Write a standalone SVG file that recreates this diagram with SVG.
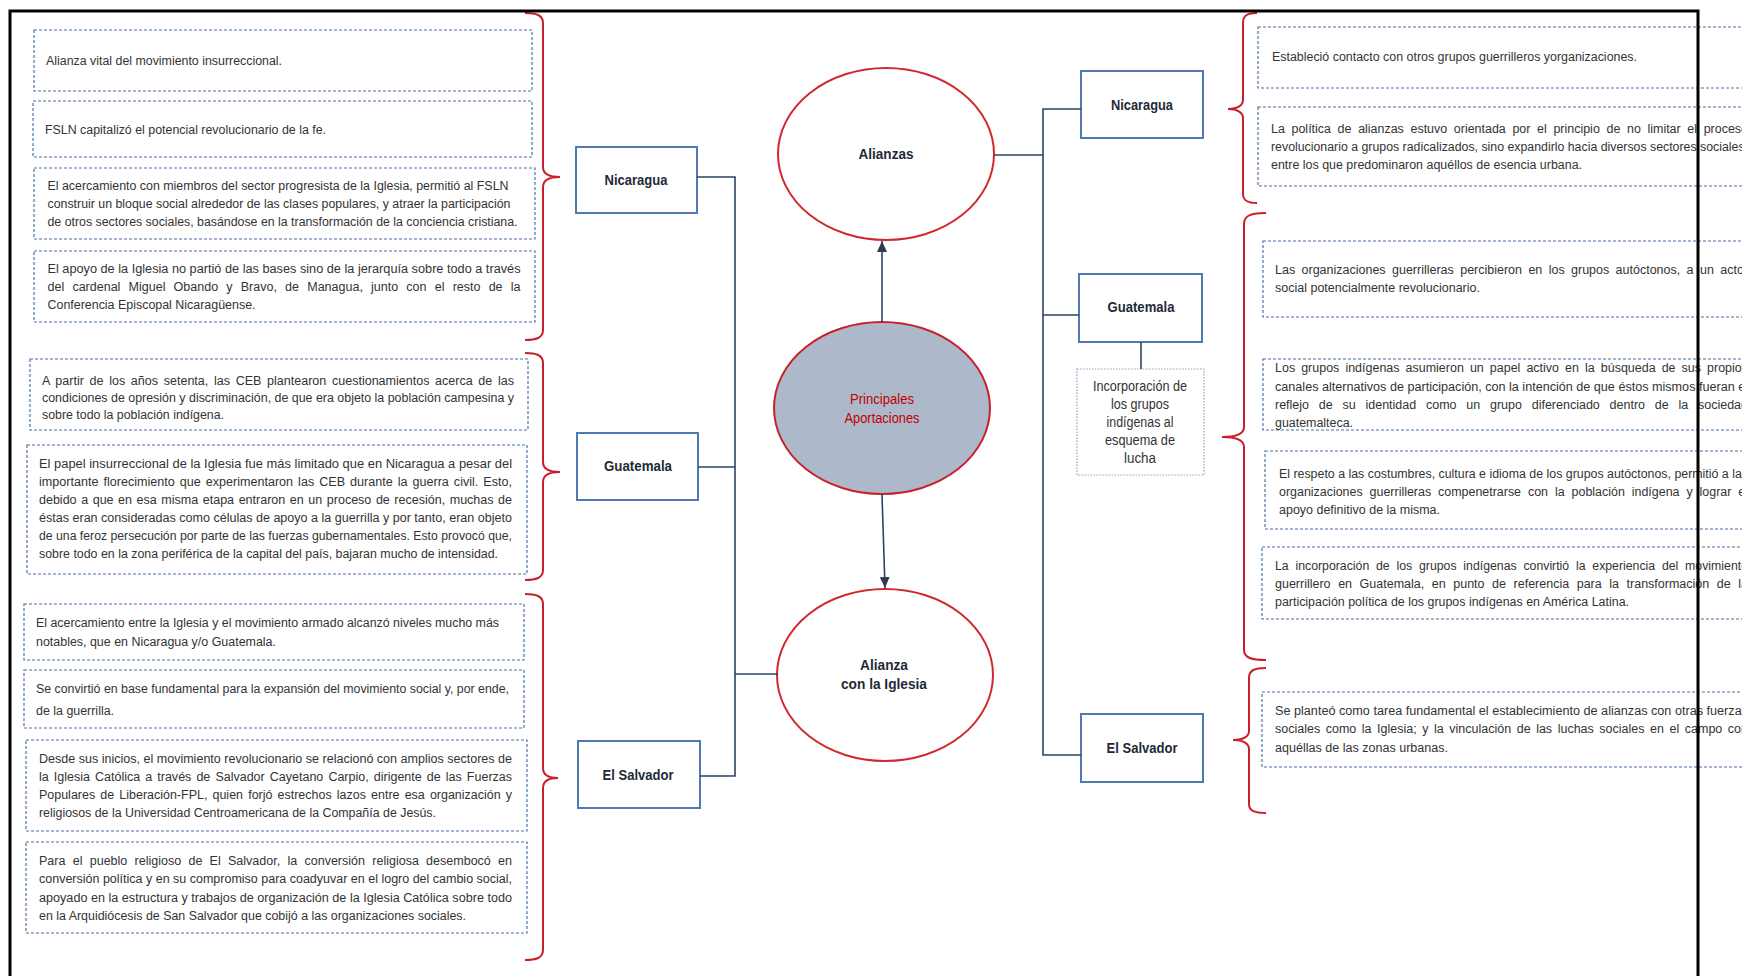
<svg xmlns="http://www.w3.org/2000/svg" width="1742" height="976" viewBox="0 0 1742 976">
  <style>
    .tb { fill: #ffffff; stroke: #4a72a6; stroke-width: 1.2; stroke-dasharray: 3 2; }
    .sub { fill: #ffffff; stroke: #8fa3c2; stroke-width: 1.2; stroke-dasharray: 1.5 1.5; }
    .txt { font-family: "Liberation Sans", Arial, sans-serif; font-size: 12.5px; fill: #333333; }
    .subtxt { font-family: "Liberation Sans", Arial, sans-serif; font-size: 14px; fill: #333333; text-anchor: middle; }
    .cb { fill: #ffffff; stroke: #4f7ab3; stroke-width: 2; }
    .cl { font-family: "Liberation Sans", Arial, sans-serif; font-size: 15px; font-weight: bold; fill: #1f2a38; text-anchor: middle; }
    .circ { fill: #ffffff; stroke: #d0282e; stroke-width: 2; }
    .core { fill: #adb9ca; stroke: #c8202a; stroke-width: 2; }
    .coretxt { font-family: "Liberation Sans", Arial, sans-serif; font-size: 14px; fill: #c00000; text-anchor: middle; }
    .conn { fill: none; stroke: #2e4266; stroke-width: 1.6; }
    .brace { fill: none; stroke: #c8202a; stroke-width: 2; }
    .frame { fill: none; stroke: #000000; stroke-width: 3; }
  </style>
  <defs>
    <marker id="arrow" viewBox="0 0 11 10" refX="11" refY="5" markerWidth="11" markerHeight="10" markerUnits="userSpaceOnUse" orient="auto">
      <path d="M0,0 L11,5 L0,10 z" fill="#2e3b4e"/>
    </marker>
  </defs>

  <rect x="0" y="0" width="1742" height="976" fill="#ffffff"/>

  <!-- Left column: Nicaragua notes -->
  <g id="n-nic-1">
    <rect class="tb" x="34" y="30" width="498" height="61"/>
    <text class="txt" x="46" y="65" textLength="236" lengthAdjust="spacingAndGlyphs">Alianza vital del movimiento insurreccional.</text>
  </g>
  <g id="n-nic-2">
    <rect class="tb" x="33" y="101" width="499" height="56"/>
    <text class="txt" x="45" y="134" textLength="281" lengthAdjust="spacingAndGlyphs">FSLN capitalizó el potencial revolucionario de la fe.</text>
  </g>
  <g id="n-nic-3">
    <rect class="tb" x="34" y="168" width="501" height="71"/>
    <text class="txt" x="47.5" y="190" textLength="461" lengthAdjust="spacingAndGlyphs">El acercamiento con miembros del sector progresista de la Iglesia, permitió al FSLN</text>
    <text class="txt" x="47.5" y="208" textLength="463" lengthAdjust="spacingAndGlyphs">construir un bloque social alrededor de las clases populares, y atraer la participación</text>
    <text class="txt" x="47.5" y="226" textLength="470" lengthAdjust="spacingAndGlyphs">de otros sectores sociales, basándose en la transformación de la conciencia cristiana.</text>
  </g>
  <g id="n-nic-4">
    <rect class="tb" x="34" y="251" width="501" height="71"/>
    <text class="txt" x="47.5" y="273" textLength="473" lengthAdjust="spacingAndGlyphs">El apoyo de la Iglesia no partió de las bases sino de la jerarquía sobre todo a través</text>
    <text class="txt" x="47.5" y="291" textLength="473" lengthAdjust="spacingAndGlyphs" word-spacing="4.7">del cardenal Miguel Obando y Bravo, de Managua, junto con el resto de la</text>
    <text class="txt" x="47.5" y="309" textLength="208" lengthAdjust="spacingAndGlyphs">Conferencia Episcopal Nicaragüense.</text>
  </g>

  <!-- Left column: Guatemala notes -->
  <g id="n-gua-1">
    <rect class="tb" x="30" y="359" width="498" height="71"/>
    <text class="txt" x="42" y="385" textLength="472" lengthAdjust="spacingAndGlyphs" word-spacing="2.2">A partir de los años setenta, las CEB plantearon cuestionamientos acerca de las</text>
    <text class="txt" x="42" y="402" textLength="472" lengthAdjust="spacingAndGlyphs">condiciones de opresión y discriminación, de que era objeto la población campesina y</text>
    <text class="txt" x="42" y="419" textLength="182" lengthAdjust="spacingAndGlyphs">sobre todo la población indígena.</text>
  </g>
  <g id="n-gua-2">
    <rect class="tb" x="27" y="445" width="500" height="129"/>
    <text class="txt" x="39" y="468" textLength="473" lengthAdjust="spacingAndGlyphs">El papel insurreccional de la Iglesia fue más limitado que en Nicaragua a pesar del</text>
    <text class="txt" x="39" y="486" textLength="473" lengthAdjust="spacingAndGlyphs" word-spacing="1.5">importante florecimiento que experimentaron las CEB durante la guerra civil. Esto,</text>
    <text class="txt" x="39" y="504" textLength="473" lengthAdjust="spacingAndGlyphs" word-spacing="1.1">debido a que en esa misma etapa entraron en un proceso de recesión, muchas de</text>
    <text class="txt" x="39" y="522" textLength="473" lengthAdjust="spacingAndGlyphs">éstas eran consideradas como células de apoyo a la guerrilla y por tanto, eran objeto</text>
    <text class="txt" x="39" y="540" textLength="473" lengthAdjust="spacingAndGlyphs">de una feroz persecución por parte de las fuerzas gubernamentales. Esto provocó que,</text>
    <text class="txt" x="39" y="558" textLength="459" lengthAdjust="spacingAndGlyphs">sobre todo en la zona periférica de la capital del país, bajaran mucho de intensidad.</text>
  </g>

  <!-- Left column: El Salvador notes -->
  <g id="n-sal-1">
    <rect class="tb" x="24" y="604" width="500" height="56"/>
    <text class="txt" x="36" y="627" textLength="463" lengthAdjust="spacingAndGlyphs">El acercamiento entre la Iglesia y el movimiento armado alcanzó niveles mucho más</text>
    <text class="txt" x="36" y="646" textLength="240" lengthAdjust="spacingAndGlyphs">notables, que en Nicaragua y/o Guatemala.</text>
  </g>
  <g id="n-sal-2">
    <rect class="tb" x="24" y="670" width="500" height="58"/>
    <text class="txt" x="36" y="693" textLength="473" lengthAdjust="spacingAndGlyphs">Se convirtió en base fundamental para la expansión del movimiento social y, por ende,</text>
    <text class="txt" x="36" y="715" textLength="78" lengthAdjust="spacingAndGlyphs">de la guerrilla.</text>
  </g>
  <g id="n-sal-3">
    <rect class="tb" x="26" y="740" width="501" height="91"/>
    <text class="txt" x="39" y="763" textLength="473" lengthAdjust="spacingAndGlyphs">Desde sus inicios, el movimiento revolucionario se relacionó con amplios sectores de</text>
    <text class="txt" x="39" y="781" textLength="473" lengthAdjust="spacingAndGlyphs" word-spacing="1.6">la Iglesia Católica a través de Salvador Cayetano Carpio, dirigente de las Fuerzas</text>
    <text class="txt" x="39" y="799" textLength="473" lengthAdjust="spacingAndGlyphs" word-spacing="1.7">Populares de Liberación-FPL, quien forjó estrechos lazos entre esa organización y</text>
    <text class="txt" x="39" y="817" textLength="397" lengthAdjust="spacingAndGlyphs">religiosos de la Universidad Centroamericana de la Compañía de Jesús.</text>
  </g>
  <g id="n-sal-4">
    <rect class="tb" x="26" y="842" width="501" height="91"/>
    <text class="txt" x="39" y="865" textLength="473" lengthAdjust="spacingAndGlyphs" word-spacing="3.8">Para el pueblo religioso de El Salvador, la conversión religiosa desembocó en</text>
    <text class="txt" x="39" y="883" textLength="473" lengthAdjust="spacingAndGlyphs">conversión política y en su compromiso para coadyuvar en el logro del cambio social,</text>
    <text class="txt" x="39" y="902" textLength="473" lengthAdjust="spacingAndGlyphs">apoyado en la estructura y trabajos de organización de la Iglesia Católica sobre todo</text>
    <text class="txt" x="39" y="920" textLength="427" lengthAdjust="spacingAndGlyphs">en la Arquidiócesis de San Salvador que cobijó a las organizaciones sociales.</text>
  </g>

  <!-- Braces grouping the left notes -->
  <g id="braces-left">
    <path class="brace" d="M525,13 C536,13 543,15 543,23 L543,167 C543,173 548,177 560,177 C548,177 543,181 543,187 L543,330 C543,338 536,340 525,340"/>
    <path class="brace" d="M525,353 C536,353 543,355 543,363 L543,462 C543,468 548,472 560,472 C548,472 543,476 543,482 L543,570 C543,578 536,580 525,580"/>
    <path class="brace" d="M525,594 C536,594 543,596 543,604 L543,768 C543,774 548,778 558,778 C548,778 543,782 543,788 L543,950 C543,958 536,960 525,960"/>
  </g>

  <!-- Country boxes, left -->
  <g id="c-nic-left">
    <rect class="cb" x="576" y="147" width="121" height="66"/>
    <text class="cl" x="636" y="185" textLength="63" lengthAdjust="spacingAndGlyphs">Nicaragua</text>
  </g>
  <g id="c-gua-left">
    <rect class="cb" x="577" y="433" width="121" height="67"/>
    <text class="cl" x="638" y="471" textLength="68" lengthAdjust="spacingAndGlyphs">Guatemala</text>
  </g>
  <g id="c-sal-left">
    <rect class="cb" x="578" y="741" width="122" height="67"/>
    <text class="cl" x="638" y="780" textLength="71" lengthAdjust="spacingAndGlyphs">El Salvador</text>
  </g>

  <!-- Central nodes -->
  <g id="alianzas">
    <ellipse class="circ" cx="886" cy="154" rx="108" ry="86"/>
    <text class="cl" x="886" y="159" textLength="55" lengthAdjust="spacingAndGlyphs">Alianzas</text>
  </g>
  <g id="aportaciones">
    <ellipse class="core" cx="882" cy="408" rx="108" ry="86"/>
    <text class="coretxt" x="882" y="404" textLength="64" lengthAdjust="spacingAndGlyphs">Principales</text>
    <text class="coretxt" x="882" y="423" textLength="75" lengthAdjust="spacingAndGlyphs">Aportaciones</text>
  </g>
  <g id="alianza-iglesia">
    <ellipse class="circ" cx="885" cy="675" rx="108" ry="86"/>
    <text class="cl" x="884" y="670" textLength="48" lengthAdjust="spacingAndGlyphs">Alianza</text>
    <text class="cl" x="884" y="689" textLength="86" lengthAdjust="spacingAndGlyphs">con la Iglesia</text>
  </g>

  <!-- Country boxes, right -->
  <g id="c-nic-right">
    <rect class="cb" x="1081" y="71" width="122" height="67"/>
    <text class="cl" x="1142" y="110" textLength="62" lengthAdjust="spacingAndGlyphs">Nicaragua</text>
  </g>
  <g id="c-gua-right">
    <rect class="cb" x="1079" y="274" width="123" height="68"/>
    <text class="cl" x="1141" y="312" textLength="67" lengthAdjust="spacingAndGlyphs">Guatemala</text>
  </g>
  <g id="c-gua-sub">
    <rect class="sub" x="1077" y="369" width="127" height="106"/>
    <text class="subtxt" x="1140" y="391" textLength="94" lengthAdjust="spacingAndGlyphs">Incorporación de</text>
    <text class="subtxt" x="1140" y="409" textLength="58" lengthAdjust="spacingAndGlyphs">los grupos</text>
    <text class="subtxt" x="1140" y="427" textLength="67" lengthAdjust="spacingAndGlyphs">indígenas al</text>
    <text class="subtxt" x="1140" y="445" textLength="70" lengthAdjust="spacingAndGlyphs">esquema de</text>
    <text class="subtxt" x="1140" y="463" textLength="32" lengthAdjust="spacingAndGlyphs">lucha</text>
  </g>
  <g id="c-sal-right">
    <rect class="cb" x="1081" y="714" width="122" height="68"/>
    <text class="cl" x="1142" y="753" textLength="71" lengthAdjust="spacingAndGlyphs">El Salvador</text>
  </g>

  <!-- Connectors -->
  <g id="connectors">
    <path class="conn" d="M697,177 H735 V776 H700"/>
    <path class="conn" d="M698,467 H735"/>
    <path class="conn" d="M735,674 H778"/>
    <path class="conn" d="M994,155 H1043"/>
    <path class="conn" d="M1081,109 H1043 V755 H1081"/>
    <path class="conn" d="M1043,315 H1079"/>
    <path class="conn" d="M1141,342 V369"/>
    <path class="conn" d="M882,322 L882,241" marker-end="url(#arrow)"/>
    <path class="conn" d="M882,494 L885,588" marker-end="url(#arrow)"/>
  </g>

  <!-- Braces grouping the right notes -->
  <g id="braces-right">
    <path class="brace" d="M1257,13 C1248,13 1243,15 1243,23 L1243,100 C1243,105 1238,109 1228,109 C1238,109 1243,113 1243,118 L1243,194 C1243,201 1248,203 1257,203"/>
    <path class="brace" d="M1266,213 C1252,213 1244,215 1244,224 L1244,427 C1244,433 1238,437 1222,437 C1238,437 1244,441 1244,447 L1244,650 C1244,658 1252,660 1266,660"/>
    <path class="brace" d="M1266,668 C1255,668 1249,670 1249,678 L1249,731 C1249,736 1244,740 1233,740 C1244,740 1249,744 1249,749 L1249,804 C1249,811 1255,813 1266,813"/>
  </g>

  <!-- Right column: Nicaragua notes -->
  <g id="r-nic-1">
    <rect class="tb" x="1258" y="27" width="500" height="61"/>
    <text class="txt" x="1272" y="61" textLength="365" lengthAdjust="spacingAndGlyphs">Estableció contacto con otros grupos guerrilleros yorganizaciones.</text>
  </g>
  <g id="r-nic-2">
    <rect class="tb" x="1258" y="107" width="500" height="79"/>
    <text class="txt" x="1271" y="133" textLength="477" lengthAdjust="spacingAndGlyphs" word-spacing="3.2">La política de alianzas estuvo orientada por el principio de no limitar el proceso</text>
    <text class="txt" x="1271" y="151" textLength="477" lengthAdjust="spacingAndGlyphs">revolucionario a grupos radicalizados, sino expandirlo hacia diversos sectores sociales,</text>
    <text class="txt" x="1271" y="169" textLength="311" lengthAdjust="spacingAndGlyphs">entre los que predominaron aquéllos de esencia urbana.</text>
  </g>

  <!-- Right column: Guatemala notes -->
  <g id="r-gua-1">
    <rect class="tb" x="1263" y="241" width="500" height="76"/>
    <text class="txt" x="1275" y="274" textLength="473" lengthAdjust="spacingAndGlyphs" word-spacing="2.9">Las organizaciones guerrilleras percibieron en los grupos autóctonos, a un actor</text>
    <text class="txt" x="1275" y="292" textLength="205" lengthAdjust="spacingAndGlyphs">social potencialmente revolucionario.</text>
  </g>
  <g id="r-gua-2">
    <rect class="tb" x="1263" y="359" width="500" height="71"/>
    <text class="txt" x="1275" y="372" textLength="473" lengthAdjust="spacingAndGlyphs" word-spacing="2.6">Los grupos indígenas asumieron un papel activo en la búsqueda de sus propios</text>
    <text class="txt" x="1275" y="391" textLength="473" lengthAdjust="spacingAndGlyphs">canales alternativos de participación, con la intención de que éstos mismos fueran el</text>
    <text class="txt" x="1275" y="409" textLength="473" lengthAdjust="spacingAndGlyphs" word-spacing="6.3">reflejo de su identidad como un grupo diferenciado dentro de la sociedad</text>
    <text class="txt" x="1275" y="427" textLength="78" lengthAdjust="spacingAndGlyphs">guatemalteca.</text>
  </g>
  <g id="r-gua-3">
    <rect class="tb" x="1265" y="451" width="500" height="78"/>
    <text class="txt" x="1279" y="478" textLength="469" lengthAdjust="spacingAndGlyphs">El respeto a las costumbres, cultura e idioma de los grupos autóctonos, permitió a las</text>
    <text class="txt" x="1279" y="496" textLength="469" lengthAdjust="spacingAndGlyphs" word-spacing="3.5">organizaciones guerrilleras compenetrarse con la población indígena y lograr el</text>
    <text class="txt" x="1279" y="514" textLength="161" lengthAdjust="spacingAndGlyphs">apoyo definitivo de la misma.</text>
  </g>
  <g id="r-gua-4">
    <rect class="tb" x="1262" y="547" width="500" height="72"/>
    <text class="txt" x="1275" y="570" textLength="473" lengthAdjust="spacingAndGlyphs" word-spacing="3.4">La incorporación de los grupos indígenas convirtió la experiencia del movimiento</text>
    <text class="txt" x="1275" y="588" textLength="473" lengthAdjust="spacingAndGlyphs" word-spacing="4.1">guerrillero en Guatemala, en punto de referencia para la transformación de la</text>
    <text class="txt" x="1275" y="606" textLength="354" lengthAdjust="spacingAndGlyphs">participación política de los grupos indígenas en América Latina.</text>
  </g>

  <!-- Right column: El Salvador notes -->
  <g id="r-sal-1">
    <rect class="tb" x="1262" y="692" width="500" height="75"/>
    <text class="txt" x="1275" y="715" textLength="473" lengthAdjust="spacingAndGlyphs">Se planteó como tarea fundamental el establecimiento de alianzas con otras fuerzas</text>
    <text class="txt" x="1275" y="733" textLength="473" lengthAdjust="spacingAndGlyphs" word-spacing="2.1">sociales como la Iglesia; y la vinculación de las luchas sociales en el campo con</text>
    <text class="txt" x="1275" y="752" textLength="173" lengthAdjust="spacingAndGlyphs">aquéllas de las zonas urbanas.</text>
  </g>

  <!-- Outer frame -->
  <g id="frame">
    <path class="frame" d="M10,976 V11 H1698 V976"/>
  </g>
</svg>
